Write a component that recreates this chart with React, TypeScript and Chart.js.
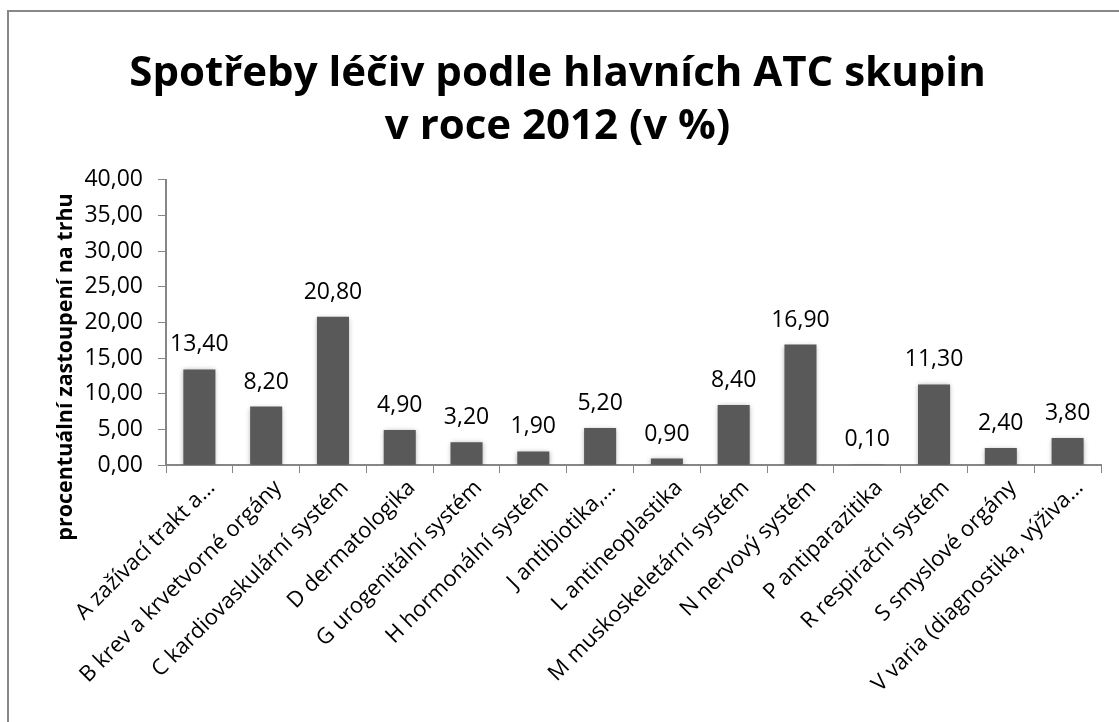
import React, { useEffect, useRef } from "react";
import { Chart, registerables } from "chart.js";

Chart.register(...registerables);

const titleLines = ["Spotřeby léčiv podle hlavních ATC skupin", "v roce 2012 (v %)"];
const yAxisTitle = "procentuální zastoupení na trhu";
const categories = [
  "A zažívací trakt a…",
  "B krev a krvetvorné orgány",
  "C kardiovaskulární systém",
  "D dermatologika",
  "G urogenitální systém",
  "H hormonální systém",
  "J antibiotika,…",
  "L antineoplastika",
  "M muskoskeletární systém",
  "N nervový systém",
  "P antiparazitika",
  "R respirační systém",
  "S smyslové orgány",
  "V varia (diagnostika, výživa…",
];
const values = [13.4, 8.2, 20.8, 4.9, 3.2, 1.9, 5.2, 0.9, 8.4, 16.9, 0.1, 11.3, 2.4, 3.8];
const yMin = 0;
const yMax = 40;
const yStep = 5;

const FONT = "'Open Sans', sans-serif";
const fmt = (v: number) => v.toFixed(2).replace(".", ",");

const shadowPlugin = {
  id: "barShadow",
  beforeDatasetsDraw(chart: any) {
    const ctx = chart.ctx;
    ctx.save();
    ctx.shadowColor = "rgba(0,0,0,0.35)";
    ctx.shadowBlur = 5;
    ctx.shadowOffsetX = 0;
    ctx.shadowOffsetY = 1;
  },
  afterDatasetsDraw(chart: any) {
    chart.ctx.restore();
  },
};

const labelPlugin = {
  id: "valueLabels",
  afterDatasetsDraw(chart: any) {
    const ctx = chart.ctx;
    const meta = chart.getDatasetMeta(0);
    ctx.save();
    ctx.font = `23px ${FONT}`;
    ctx.fillStyle = "#000";
    ctx.textAlign = "center";
    ctx.textBaseline = "alphabetic";
    meta.data.forEach((bar: any, i: number) => {
      ctx.fillText(fmt(values[i]), bar.x, bar.y - 18);
    });
    ctx.restore();
  },
};

const yTitlePlugin = {
  id: "yTitle",
  afterDraw(chart: any) {
    const ctx = chart.ctx;
    ctx.save();
    ctx.translate(66, 367);
    ctx.rotate(-Math.PI / 2);
    ctx.font = `bold 21.5px ${FONT}`;
    ctx.fillStyle = "#000";
    ctx.textAlign = "center";
    ctx.textBaseline = "middle";
    ctx.fillText(yAxisTitle, 0, 0);
    ctx.restore();
  },
};

export default function App() {
  const ref = useRef<HTMLCanvasElement>(null);
  useEffect(() => {
    if (!ref.current) return;
    const chart = new Chart(ref.current, {
      type: "bar",
      data: {
        labels: categories,
        datasets: [
          {
            data: values,
            backgroundColor: "#595959",
            borderWidth: 0,
            barPercentage: 0.48,
            categoryPercentage: 1,
          },
        ],
      },
      options: {
        animation: false,
        responsive: false,
        layout: { padding: { left: 14, right: 18, top: 0, bottom: 0 } },
        plugins: {
          legend: { display: false },
          tooltip: { enabled: false },
          title: {
            display: true,
            text: titleLines,
            color: "#000",
            font: { family: FONT, size: 42, weight: "bold", lineHeight: 1.26 },
            padding: { top: 48, bottom: 26 },
          },
        },
        scales: {
          y: {
            min: yMin,
            max: yMax,
            ticks: {
              stepSize: yStep,
              callback: (v: any) => fmt(Number(v)),
              color: "#000",
              font: { family: FONT, size: 23 },
              padding: 15,
            },
            grid: { drawOnChartArea: false, drawTicks: true, tickLength: 8, color: "#868686" },
            border: { display: true, color: "#868686", width: 2 },
            afterFit(scale: any) {
              scale.width = 152;
            },
          },
          x: {
            ticks: {
              color: "#000",
              font: { family: FONT, size: 22 },
              maxRotation: 45,
              minRotation: 45,
              autoSkip: false,
              padding: 2,
              labelOffset: 12,
            },
            grid: { drawOnChartArea: false, drawTicks: true, tickLength: 8, color: "#868686", offset: true },
            border: { display: true, color: "#868686", width: 2 },
            afterFit(scale: any) {
              scale.height = 257;
            },
          },
        },
      } as any,
      plugins: [shadowPlugin, labelPlugin, yTitlePlugin],
    });
    return () => chart.destroy();
  }, []);
  return (
    <div style={{ position: "fixed", left: 0, top: 0, width: 1119, height: 722, background: "#fff", overflow: "hidden" }}>
      <div
        style={{
          position: "absolute",
          left: 7,
          top: 10,
          width: 1200,
          height: 800,
          borderTop: "2px solid #888",
          borderLeft: "2px solid #888",
        }}
      />
      <canvas ref={ref} width={1119} height={722} style={{ position: "absolute", left: 0, top: 0 }} />
    </div>
  );
}
